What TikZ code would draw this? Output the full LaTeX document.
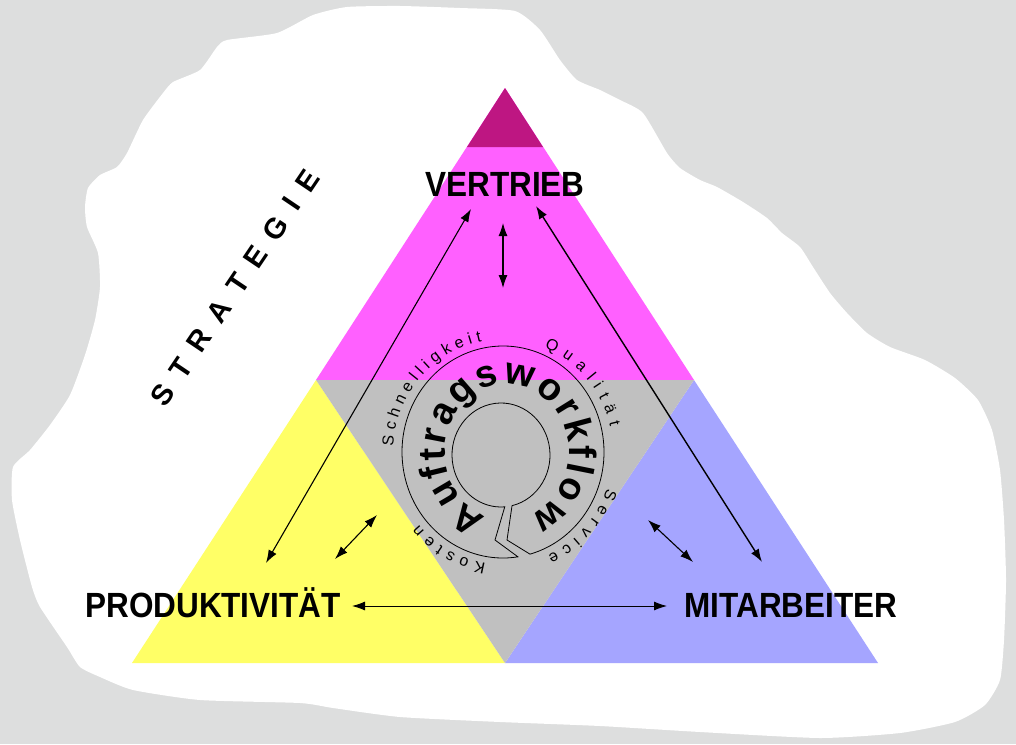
\documentclass[tikz,border=0pt]{standalone}
\usepackage{fontspec}
\setmainfont{Liberation Sans}
\newfontfamily\labfont{Liberation Sans}[FakeStretch=0.9]
\usetikzlibrary{arrows.meta,decorations.text}
\definecolor{bggray}{RGB}{221,222,222}
\definecolor{topmag}{RGB}{190,22,130}
\definecolor{mag}{RGB}{255,96,255}
\definecolor{yel}{RGB}{255,255,102}
\definecolor{blu}{RGB}{165,165,255}
\definecolor{midgray}{RGB}{192,192,192}
\newcommand\awfont{\fontsize{38}{44}\selectfont\bfseries}
\newcommand\smfont{\fontsize{16}{19}\selectfont}
\newcommand\lsp{\hspace{14pt}}
\begin{document}
\begin{tikzpicture}[x=1pt,y=-1pt,
  lab/.style={font=\labfont\bfseries\fontsize{35}{40}\selectfont, anchor=base, inner sep=0pt},
  conn/.style={{Latex[length=13pt,width=9pt]}-{Latex[length=13pt,width=9pt]}, line width=1.1pt},
  ring/.style={line width=0.8pt},
  bigtext/.style={decorate, decoration={text along path, text={|\awfont|#1}, text align={fit to path}}},
  smtext/.style={decorate, decoration={text along path, text={|\smfont|#1}, text align={fit to path}}}]
\useasboundingbox (0,0) rectangle (1016,744);
\fill[bggray] (0,0) rectangle (1016,744);
% white blob
\fill[white] plot[smooth cycle, tension=0.35] coordinates {
(347,7) (400,6) (460,8) (515,11) (540,30) (560,60) (577,80) (600,90) (620,100)
(643,113) (667,153) (680,168) (700,180) (717,187) (743,202) (767,218) (782,233)
(800,247) (813,267) (830,293) (847,313) (867,333) (890,347) (925,360) (955,378)
(978,400) (992,430) (1000,470) (1004,520) (1006,580) (1004,640) (1000,680)
(985,705) (955,722) (900,733) (820,738) (700,732) (600,726) (500,722) (400,717)
(333,708) (300,703) (200,700) (133,690) (100,677) (80,667) (67,647) (40,607)
(32,587) (20,540) (12,500) (13,467) (30,450) (50,425) (70,395) (85,355)
(95,320) (100,287) (98,253) (87,227) (85,207) (88,188) (100,175) (117,167)
(127,153) (143,120) (163,93) (173,82) (200,70) (217,47) (227,40) (277,33) (313,15)};
% triangle parts
\fill[mag] (505,88) -- (316,380) -- (694,380) -- cycle;
\fill[topmag] (505,88) -- (467,147) -- (543,147) -- cycle;
\fill[yel] (316,380) -- (132,663) -- (505,663) -- cycle;
\fill[blu] (694,380) -- (505,663) -- (878,663) -- cycle;
\fill[midgray] (316,380) -- (694,380) -- (505,663) -- cycle;
% ring shape
\draw[ring] ([shift={(503,452)}]81.5:101 and 106)
  arc[start angle=81.5, end angle=434.5, x radius=101, y radius=106]
  -- (507,540) -- ([shift={(501,455)}]77:49 and 52)
  arc[start angle=437, end angle=85.6, x radius=49, y radius=52]
  -- (495,540) -- cycle;
% circular texts
\path[bigtext={Auftragsworkflow}] ([shift={(507,452)}]110:62 and 68)
  arc[start angle=110, end angle=428, x radius=62, y radius=68];
\path[smtext={Schnelligkeit}] ([shift={(503,452)}]183:110 and 113)
  arc[start angle=183, end angle=259, x radius=110, y radius=113];
\path[smtext={Qualität}] ([shift={(503,452)}]292:110 and 113)
  arc[start angle=292, end angle=347, x radius=110, y radius=113];
\path[smtext={Service}] ([shift={(503,452)}]19:110 and 113)
  arc[start angle=19, end angle=66, x radius=110, y radius=113];
\path[smtext={Kosten}] ([shift={(503,452)}]99:110 and 113)
  arc[start angle=99, end angle=140, x radius=110, y radius=113];
% labels
\node[lab] (vert) at (505,196) {VERTRIEB};
\node[lab] (prod) at (213,617) {PRODUKTIVITÄT};
\node[lab] (mita) at (791,617) {MITARBEITER};
\node[font=\bfseries\fontsize{29}{34}\selectfont, rotate=56, inner sep=0pt] (strat) at (235,288)
  {S\lsp T\lsp R\lsp A\lsp T\lsp E\lsp G\lsp I\lsp E};
% arrow ends
\coordinate (vL) at (471,209);
\coordinate (pT) at (266,563);
\coordinate (vR) at (536,206);
\coordinate (mT) at (762,562);
\coordinate (vA) at (503,223);
\coordinate (vB) at (503,288);
\coordinate (pA) at (335,559);
\coordinate (pB) at (377,515);
\coordinate (mA) at (648,520);
\coordinate (mB) at (693,562);
\coordinate (pR) at (352,606);
\coordinate (mL) at (667,606);
\draw[conn] (pT) -- (vL);
\draw[conn, line width=1.4pt] (vR) -- (mT);
\draw[conn] (vA) -- (vB);
\draw[conn] (pA) -- (pB);
\draw[conn] (mA) -- (mB);
\draw[conn, line width=0.9pt] (pR) -- (mL);
\end{tikzpicture}
\end{document}
